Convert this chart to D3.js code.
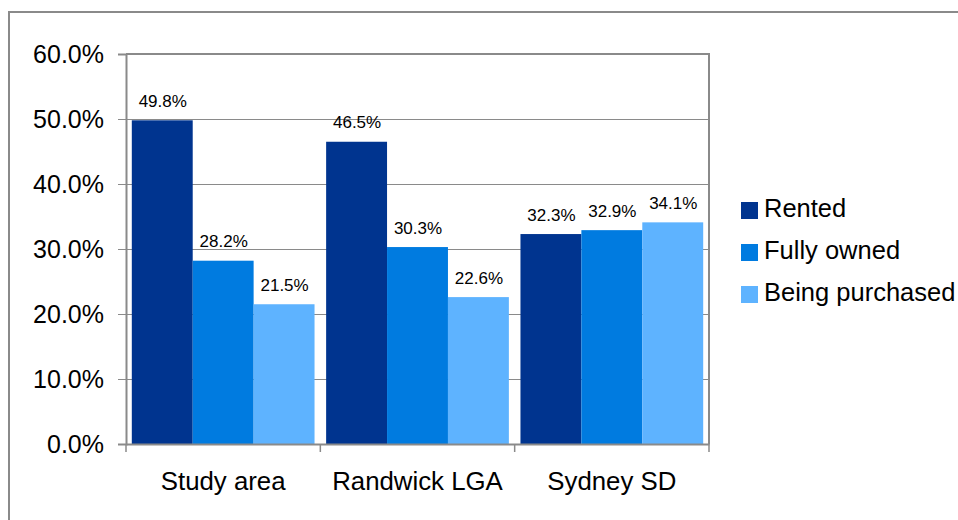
<!DOCTYPE html>
<html>
<head>
<meta charset="utf-8">
<script src="https://cdn.jsdelivr.net/npm/d3@7"></script>
<style>
  html, body { margin: 0; padding: 0; background: #fff; }
  svg { display: block; font-family: "Liberation Sans", Arial, sans-serif; }
</style>
</head>
<body>
<svg id="chart" width="958" height="520"></svg>
<script>
const categories = ["Study area", "Randwick LGA", "Sydney SD"];
const seriesNames = ["Rented", "Fully owned", "Being purchased"];
const rented = [49.8, 46.5, 32.3];
const fullyOwned = [28.2, 30.3, 32.9];
const beingPurchased = [21.5, 22.6, 34.1];
const yTicks = [0, 10, 20, 30, 40, 50, 60];
const colors = ["#00348F", "#007BE0", "#5EB3FF"];

const seriesValues = [rented, fullyOwned, beingPurchased];

const svg = d3.select("#chart");
const plot = { left: 126, top: 54, right: 709, bottom: 444 };

// outer frame
svg.append("rect")
  .attr("x", 9).attr("y", 12)
  .attr("width", 1000).attr("height", 600)
  .attr("fill", "none").attr("stroke", "#8a8a8a").attr("stroke-width", 2);

const y = d3.scaleLinear().domain([0, 60]).range([plot.bottom, plot.top]);
const x0 = d3.scaleBand().domain(categories).range([plot.left, plot.right]).padding(0);
const inset = 5.8;
const x1 = d3.scaleBand().domain(seriesNames).range([inset, x0.bandwidth() - inset]).padding(0);

// gridlines
svg.append("g")
  .selectAll("line")
  .data(yTicks.filter(d => d > 0))
  .join("line")
  .attr("x1", plot.left - 8).attr("x2", plot.right)
  .attr("y1", d => Math.round(y(d)) + 0.5).attr("y2", d => Math.round(y(d)) + 0.5)
  .attr("stroke", "#8a8a8a").attr("stroke-width", 1);

// bars
const groups = svg.append("g")
  .selectAll("g")
  .data(categories)
  .join("g")
  .attr("transform", d => `translate(${x0(d)},0)`);

groups.selectAll("rect")
  .data((c, i) => seriesNames.map((s, j) => ({ s, j, v: seriesValues[j][i] })))
  .join("rect")
  .attr("x", d => x1(d.s))
  .attr("y", d => y(d.v))
  .attr("width", x1.bandwidth())
  .attr("height", d => y(0) - y(d.v))
  .attr("fill", d => colors[d.j]);

groups.selectAll("text")
  .data((c, i) => seriesNames.map((s, j) => ({ s, j, v: seriesValues[j][i] })))
  .join("text")
  .attr("x", d => x1(d.s) + x1.bandwidth() / 2 + 0.5)
  .attr("y", d => y(d.v) - 13.5)
  .attr("text-anchor", "middle")
  .attr("font-size", 17)
  .attr("fill", "#000")
  .text(d => d.v.toFixed(1) + "%");

// plot border top/right
svg.append("path")
  .attr("d", `M${plot.left},${plot.top}H${plot.right}V${plot.bottom}`)
  .attr("fill", "none").attr("stroke", "#8a8a8a").attr("stroke-width", 2);

// y axis
const yAxis = svg.append("g")
  .attr("transform", `translate(${plot.left},0)`)
  .call(d3.axisLeft(y).tickValues(yTicks).tickSize(8).tickPadding(14).tickFormat(d => d.toFixed(1) + "%"));
yAxis.select(".domain").attr("stroke", "#8a8a8a").attr("stroke-width", 2);
yAxis.selectAll(".tick line").attr("stroke", "#8a8a8a");
yAxis.selectAll(".tick text")
  .attr("font-size", 25).attr("fill", "#000")
  .attr("font-family", "Liberation Sans, Arial, sans-serif");

// x axis
const xAxis = svg.append("g")
  .attr("transform", `translate(0,${plot.bottom})`)
  .call(d3.axisBottom(x0).tickSize(0).tickPadding(28));
xAxis.select(".domain").attr("stroke", "#8a8a8a").attr("stroke-width", 2);
xAxis.selectAll(".tick text")
  .attr("font-size", 25.8).attr("fill", "#000")
  .attr("font-family", "Liberation Sans, Arial, sans-serif");
// category boundary ticks
const bounds = categories.map(c => x0(c)).concat([x0(categories[categories.length - 1]) + x0.bandwidth()]);
svg.append("g")
  .selectAll("line")
  .data(bounds)
  .join("line")
  .attr("x1", d => d).attr("x2", d => d)
  .attr("y1", plot.bottom).attr("y2", plot.bottom + 8)
  .attr("stroke", "#8a8a8a").attr("stroke-width", 1.5);

// legend
const legend = svg.append("g")
  .selectAll("g")
  .data(seriesNames)
  .join("g")
  .attr("transform", (d, i) => `translate(741,${202 + i * 42})`);
legend.append("rect")
  .attr("width", 17).attr("height", 17)
  .attr("fill", (d, i) => colors[i]);
legend.append("text")
  .attr("x", 23).attr("y", 14.5)
  .attr("font-size", 25.5).attr("fill", "#000")
  .text(d => d);
</script>
</body>
</html>
